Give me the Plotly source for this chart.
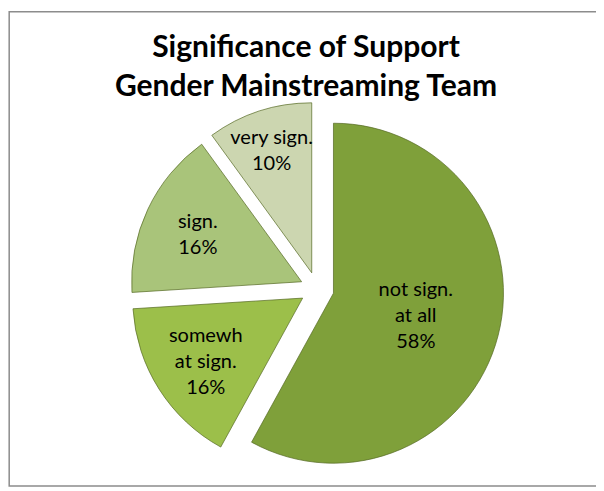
import plotly.graph_objects as go

# data (clockwise from 12 o'clock)
labels = ["not sign.<br>at all", "somewh<br>at sign.", "sign.", "very sign."]
shares = [58, 16, 16, 10]
slice_colors = ["#7fa03a", "#9cbf4a", "#a9c47a", "#ccd6b0"]

# the page body adds an 8px margin, so the figure is a bit smaller than the window
W, H = 596, 483

fig = go.Figure(go.Pie(
    labels=labels,
    values=shares,
    sort=False,
    direction="clockwise",
    rotation=0,
    pull=[0.1, 0.1, 0.1, 0.1],
    marker=dict(colors=slice_colors, line=dict(color="rgba(85,105,35,0.7)", width=1)),
    texttemplate="%{label}<br>%{percent:.0%}",
    textposition="inside",
    insidetextorientation="horizontal",
    textfont=dict(family="Lato, Carlito, sans-serif", size=20, color="black"),
    hoverinfo="label+percent",
    showlegend=False,
    domain=dict(x=[0.2047, 0.8322], y=[0.0311, 0.8054]),
))

fig.update_layout(
    width=W,
    height=H,
    margin=dict(l=0, r=0, t=0, b=0),
    paper_bgcolor="white",
    uniformtext=dict(minsize=19, mode="show"),
    title=dict(
        text="<b>Significance of Support<br>Gender Mainstreaming Team</b>",
        x=0.5,
        xanchor="center",
        y=0.899,
        yanchor="top",
        font=dict(family="Lato, Carlito, sans-serif", size=30, color="black"),
    ),
    shapes=[dict(
        type="rect", xref="paper", yref="paper",
        x0=0.002, x1=0.988, y0=0.0104, y1=0.992,
        line=dict(color="#8c8c8c", width=1.5),
    )],
)

fig.write_html("out.html", config={"displayModeBar": False})
